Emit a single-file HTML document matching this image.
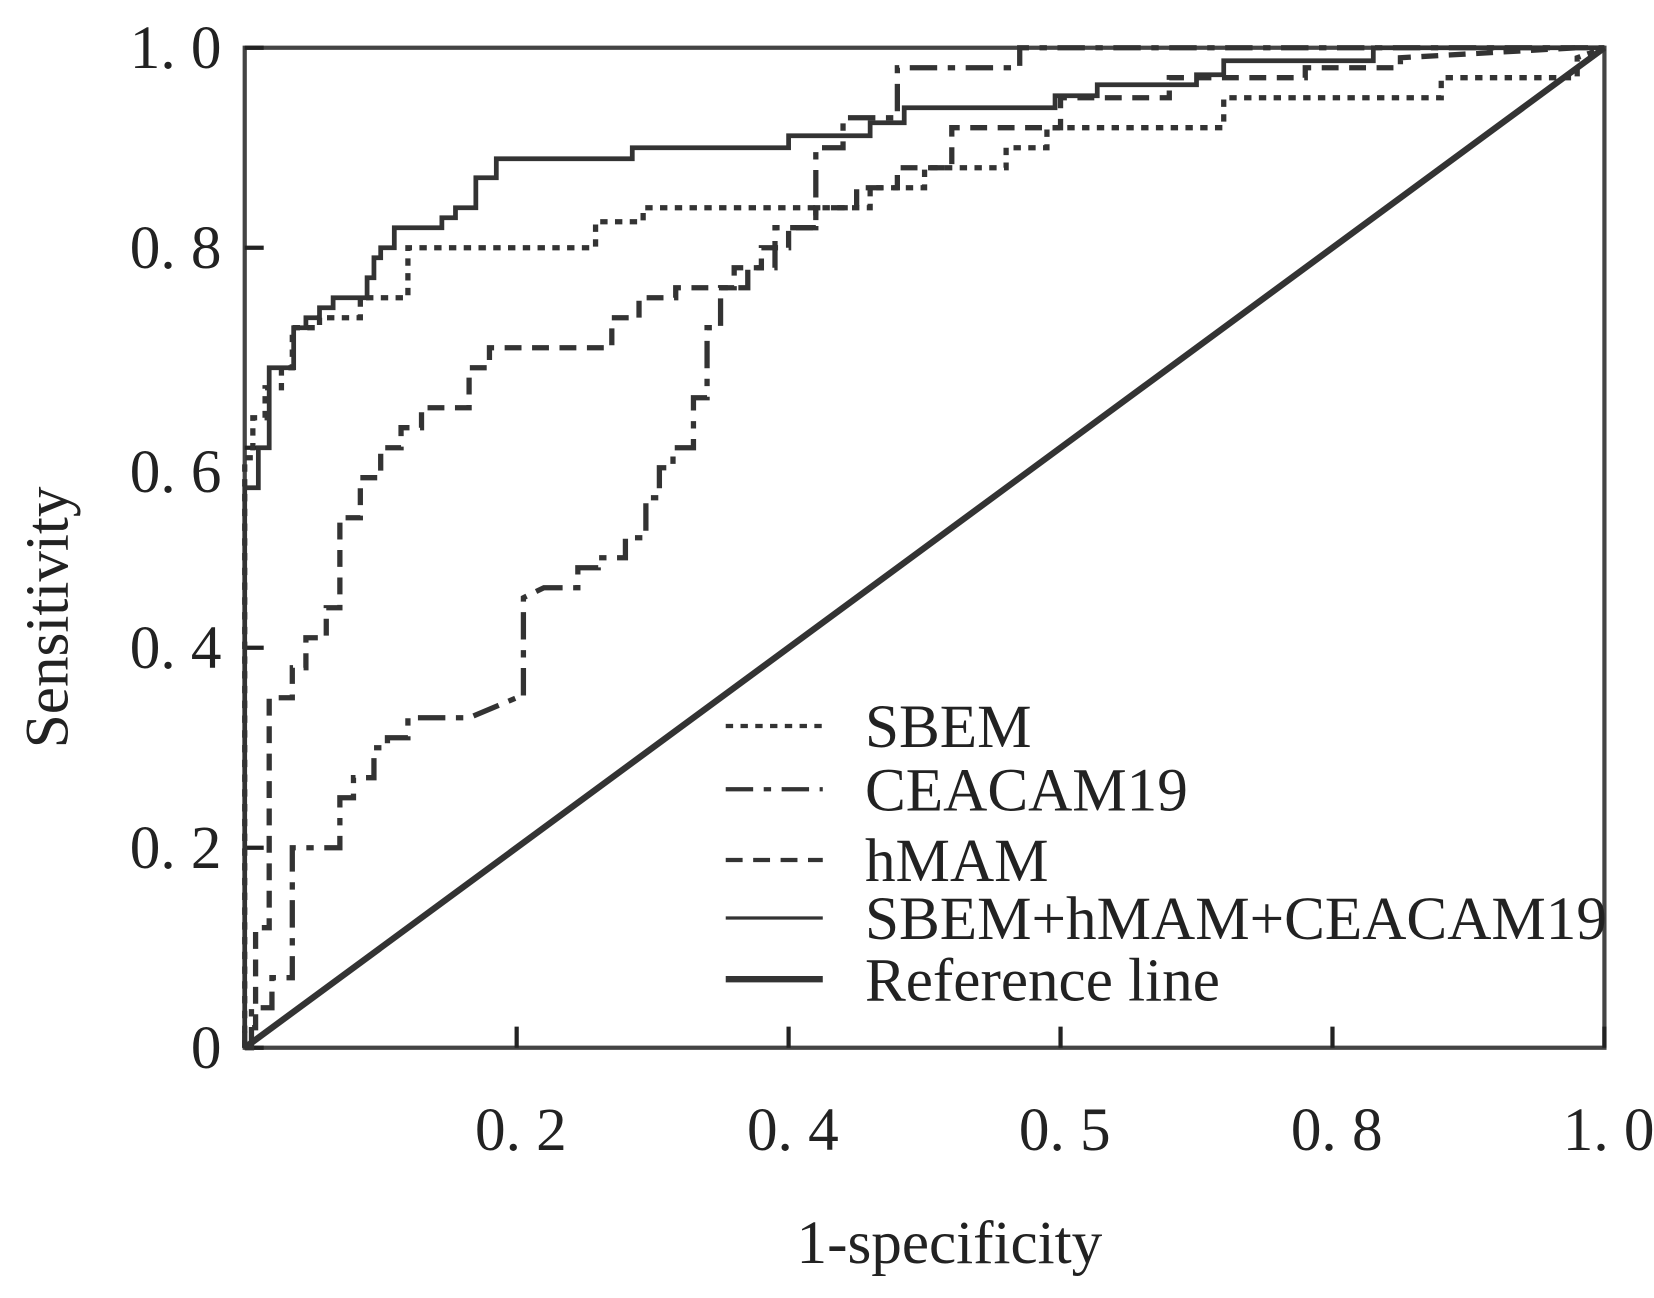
<!DOCTYPE html>
<html><head><meta charset="utf-8"><style>
html,body{margin:0;padding:0;background:#fff;}
svg{display:block;}
text{font-family:"Liberation Serif","Noto Serif CJK SC",serif;fill:#222;}
</style></head><body>
<svg id="chart" width="1654" height="1298" viewBox="0 0 1568 1230" xmlns="http://www.w3.org/2000/svg">
<g id="plot"></g>
</svg>
<script>
const xTickValues=[0.2,0.4,0.6,0.8,1.0];
const xTickLabels=["0. 2","0. 4","0. 5","0. 8","1. 0"];
const yTickValues=[1.0,0.8,0.6,0.4,0.2,0];
const yTickLabels=["1. 0","0. 8","0. 6","0. 4","0. 2","0"];
const seriesNames=["SBEM","CEACAM19","hMAM","SBEM+hMAM+CEACAM19","Reference line"];
const combinedX=[0,0,0.01,0.01,0.018,0.018,0.036,0.036,0.045,0.045,0.055,0.055,0.065,0.065,0.09,0.09,0.095,0.095,0.1,0.1,0.11,0.11,0.145,0.145,0.155,0.155,0.17,0.17,0.185,0.185,0.285,0.285,0.4,0.4,0.46,0.46,0.485,0.485,0.596,0.596,0.627,0.627,0.7,0.7,0.72,0.72,0.83,0.83,1];
const combinedY=[0,0.56,0.56,0.6,0.6,0.68,0.68,0.72,0.72,0.73,0.73,0.74,0.74,0.75,0.75,0.77,0.77,0.79,0.79,0.8,0.8,0.82,0.82,0.83,0.83,0.84,0.84,0.87,0.87,0.889,0.889,0.9,0.9,0.912,0.912,0.925,0.925,0.94,0.94,0.952,0.952,0.963,0.963,0.973,0.973,0.987,0.987,1,1];
const sbemX=[0,0,0.006,0.006,0.015,0.015,0.027,0.027,0.035,0.035,0.055,0.055,0.085,0.085,0.12,0.12,0.258,0.258,0.293,0.293,0.46,0.46,0.5,0.5,0.56,0.56,0.59,0.59,0.72,0.72,0.88,0.88,0.98,0.98,1];
const sbemY=[0,0.59,0.59,0.63,0.63,0.66,0.66,0.68,0.68,0.72,0.72,0.73,0.73,0.75,0.75,0.8,0.8,0.826,0.826,0.84,0.84,0.86,0.86,0.88,0.88,0.9,0.9,0.92,0.92,0.95,0.95,0.97,0.97,0.99,1];
const hmamX=[0,0,0.008,0.008,0.018,0.018,0.035,0.035,0.045,0.045,0.06,0.06,0.07,0.07,0.085,0.085,0.1,0.1,0.115,0.115,0.13,0.13,0.165,0.165,0.18,0.18,0.27,0.27,0.29,0.29,0.317,0.317,0.36,0.36,0.38,0.38,0.4,0.4,0.42,0.42,0.45,0.45,0.48,0.48,0.52,0.52,0.6,0.6,0.68,0.68,0.78,0.78,0.85,0.85,0.98,1];
const hmamY=[0,0.02,0.02,0.12,0.12,0.35,0.35,0.38,0.38,0.41,0.41,0.44,0.44,0.53,0.53,0.57,0.57,0.6,0.6,0.62,0.62,0.64,0.64,0.68,0.68,0.7,0.7,0.73,0.73,0.75,0.75,0.76,0.76,0.78,0.78,0.8,0.8,0.82,0.82,0.84,0.84,0.86,0.86,0.88,0.88,0.92,0.92,0.95,0.95,0.97,0.97,0.98,0.98,0.99,1];
const ceaX=[0,0.005,0.005,0.02,0.02,0.035,0.035,0.07,0.07,0.08,0.08,0.095,0.095,0.105,0.105,0.12,0.12,0.165,0.2,0.205,0.205,0.22,0.245,0.245,0.26,0.26,0.28,0.28,0.295,0.295,0.305,0.305,0.315,0.315,0.33,0.33,0.34,0.34,0.35,0.35,0.37,0.37,0.39,0.39,0.42,0.42,0.44,0.44,0.48,0.48,0.57,0.57,1];
const ceaY=[0,0,0.04,0.04,0.07,0.07,0.2,0.2,0.25,0.25,0.27,0.27,0.3,0.3,0.31,0.31,0.33,0.33,0.35,0.35,0.45,0.46,0.46,0.48,0.48,0.49,0.49,0.51,0.51,0.55,0.55,0.58,0.58,0.6,0.6,0.65,0.65,0.72,0.72,0.76,0.76,0.78,0.78,0.82,0.82,0.9,0.9,0.93,0.93,0.98,0.98,1,1];
const refX=[0,1];
const refY=[0,1];

const L=232,R=1521,T=45,B=993;
const sx=v=>L+v*(R-L);
const sy=v=>B-v*(B-T);
const NS="http://www.w3.org/2000/svg";
const g=document.getElementById('plot');
function mk(tag,attrs,parent){const e=document.createElementNS(NS,tag);for(const k in attrs)e.setAttribute(k,attrs[k]);(parent||g).appendChild(e);return e;}
function pts(xs,ys){return xs.map((x,i)=>sx(x).toFixed(1)+','+sy(ys[i]).toFixed(1)).join(' ');}

const frame=mk('rect',{x:L,y:T,width:R-L,height:B-T,fill:'none',stroke:'#444','stroke-width':4});



yTickValues.forEach((v,i)=>{
  const t=mk('line',{x1:L,x2:L+18,y1:sy(v),y2:sy(v),stroke:'#222','stroke-width':4});
  
  
  const dy=(v===0.6)?42:19;
  const lb=mk('text',{x:L-22,y:sy(v)+dy,'text-anchor':'end','font-size':58});
  lb.textContent=yTickLabels[i];
  
  
});
xTickValues.forEach((v,i)=>{
  const t=mk('line',{x1:sx(v),x2:sx(v),y1:B,y2:B-20,stroke:'#222','stroke-width':4});
  
  
  const lb=mk('text',{x:sx(v)+4,y:1090,'text-anchor':'middle','font-size':58});
  lb.textContent=xTickLabels[i];
  
  
});
const xt=mk('text',{x:900,y:1197,'text-anchor':'middle','font-size':58});
xt.textContent='1-specificity';


const yt=mk('text',{x:0,y:0,'text-anchor':'middle','font-size':58,transform:'translate(64,585) rotate(-90)'});
yt.textContent='Sensitivity';



const styles=[
 {xs:sbemX,ys:sbemY,dash:'7 7',w:5},
 {xs:ceaX,ys:ceaY,dash:'26 10 7 10',w:5},
 {xs:hmamX,ys:hmamY,dash:'16 10',w:5},
 {xs:combinedX,ys:combinedY,dash:'none',w:4.5},
 {xs:refX,ys:refY,dash:'none',w:6}
];
const lineNames=['sbem-line','ceacam19-line','hmam-line','combined-line','reference-line'];
styles.forEach((s,i)=>{
  const p=mk('polyline',{points:pts(s.xs,s.ys),fill:'none',stroke:'#333','stroke-width':s.w,'stroke-dasharray':s.dash,'stroke-linejoin':'miter'});
  
  
});

const legY=[688,748,815,870,928];
const legDash=['7 7','26 10 7 10','16 10','none','none'];
const legW=[4,4,4,3,6];
seriesNames.forEach((n,i)=>{
  const ln=mk('line',{x1:688,x2:780,y1:legY[i],y2:legY[i],stroke:'#333','stroke-width':legW[i],'stroke-dasharray':legDash[i]});
  
  
  const tx=mk('text',{x:820,y:legY[i]+20,'font-size':58});
  tx.textContent=n;
  
  
});
</script>
</body></html>
